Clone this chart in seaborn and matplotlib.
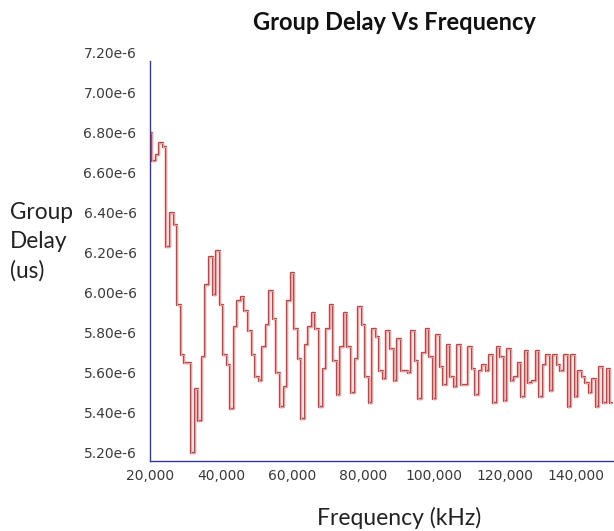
import matplotlib
matplotlib.use("Agg")
import matplotlib.pyplot as plt
import matplotlib.patheffects as pe
from matplotlib.ticker import FuncFormatter, MultipleLocator
import seaborn as sns
import pandas as pd

# frequency grid (Hz), one sample per kHz
freq = list(range(20000, 151000, 1000))

# group delay, in units of 1e-6
delay_e6 = [
    6.84, 6.70, 6.73, 6.79, 6.77, 6.27, 6.44, 6.38, 5.98, 5.73,   # 20-29
    5.69, 5.69, 5.24, 5.56, 5.40, 5.72, 6.08, 6.22, 6.03, 6.25,   # 30-39
    5.98, 5.73, 5.68, 5.46, 5.87, 6.00, 6.02, 5.95, 5.85, 5.73,   # 40-49
    5.62, 5.60, 5.77, 5.88, 6.05, 5.91, 5.64, 5.47, 5.57, 6.00,   # 50-59
    6.14, 5.86, 5.71, 5.41, 5.78, 5.87, 5.94, 5.86, 5.47, 5.66,   # 60-69
    5.86, 5.98, 5.70, 5.53, 5.77, 5.94, 5.77, 5.54, 5.71, 5.97,   # 70-79
    5.88, 5.62, 5.49, 5.86, 5.82, 5.65, 5.61, 5.85, 5.76, 5.60,   # 80-89
    5.81, 5.65, 5.65, 5.64, 5.85, 5.70, 5.51, 5.74, 5.86, 5.72,   # 90-99
    5.51, 5.83, 5.67, 5.58, 5.78, 5.62, 5.57, 5.78, 5.58, 5.58,   # 100-109
    5.77, 5.66, 5.53, 5.65, 5.68, 5.65, 5.73, 5.49, 5.77, 5.72,   # 110-119
    5.50, 5.76, 5.60, 5.62, 5.69, 5.52, 5.75, 5.59, 5.60, 5.75,   # 120-129
    5.52, 5.68, 5.73, 5.55, 5.73, 5.68, 5.65, 5.73, 5.47, 5.73,   # 130-139
    5.52, 5.65, 5.62, 5.59, 5.54, 5.61, 5.47, 5.67, 5.49, 5.66,   # 140-149
    5.49,                                                         # 150
]

df = pd.DataFrame({"freq": freq, "delay": [d * 1e-6 for d in delay_e6]})

sns.set_style("white")
plt.rcParams["font.family"] = ["DejaVu Sans"]

fig = plt.figure(figsize=(6.14, 5.31), dpi=100)
ax = fig.add_axes([0.245, 0.1324, 0.755, 0.7533])

# thin red trace with a light core, like the anti-aliased original
sns.lineplot(data=df, x="freq", y="delay", ax=ax, drawstyle="steps-mid",
             color="#bb4848", linewidth=1.7,
             path_effects=[pe.Normal(),
                           pe.Stroke(linewidth=0.45, foreground="#f5d8d8")])

ax.set_xlim(20000, 150600)
ax.set_ylim(5.2e-6, 7.2e-6)
ax.set_xlabel("")
ax.set_ylabel("")

ax.xaxis.set_major_locator(MultipleLocator(20000))
ax.xaxis.set_minor_locator(MultipleLocator(10000))
ax.yaxis.set_major_locator(MultipleLocator(0.2e-6))
ax.yaxis.set_minor_locator(MultipleLocator(0.1e-6))
ax.xaxis.set_major_formatter(FuncFormatter(lambda v, p: f"{v:,.0f}"))
ax.yaxis.set_major_formatter(FuncFormatter(lambda v, p: f"{v * 1e6:.2f}e-6"))

axis_col = "#3636a0"
for s in ["top", "right"]:
    ax.spines[s].set_visible(False)
for s in ["left", "bottom"]:
    ax.spines[s].set_color(axis_col)
    ax.spines[s].set_linewidth(1.0)

ax.tick_params(which="both", direction="out", color="#666688", labelsize=10,
               labelcolor="#3a3a3a")
ax.tick_params(which="major", length=4, width=0.8)
ax.tick_params(which="minor", length=3, width=0.8)
ax.tick_params(axis="x", pad=2)
ax.tick_params(axis="y", pad=6)
for lab in ax.get_yticklabels():
    lab.set_va("bottom")

fig.text(0.643, 0.958, "Group Delay Vs Frequency", ha="center", va="center",
         fontsize=17, fontweight="bold", family="Lato", color="#111111")
fig.text(0.016, 0.545, "Group\nDelay\n(us)", ha="left", va="center",
         fontsize=16.3, family="Lato", color="#222222", linespacing=1.45)
fig.text(0.650, 0.025, "Frequency (kHz)", ha="center", va="center",
         fontsize=16.5, family="Lato", color="#222222")

fig.savefig("out.png", dpi=100)
